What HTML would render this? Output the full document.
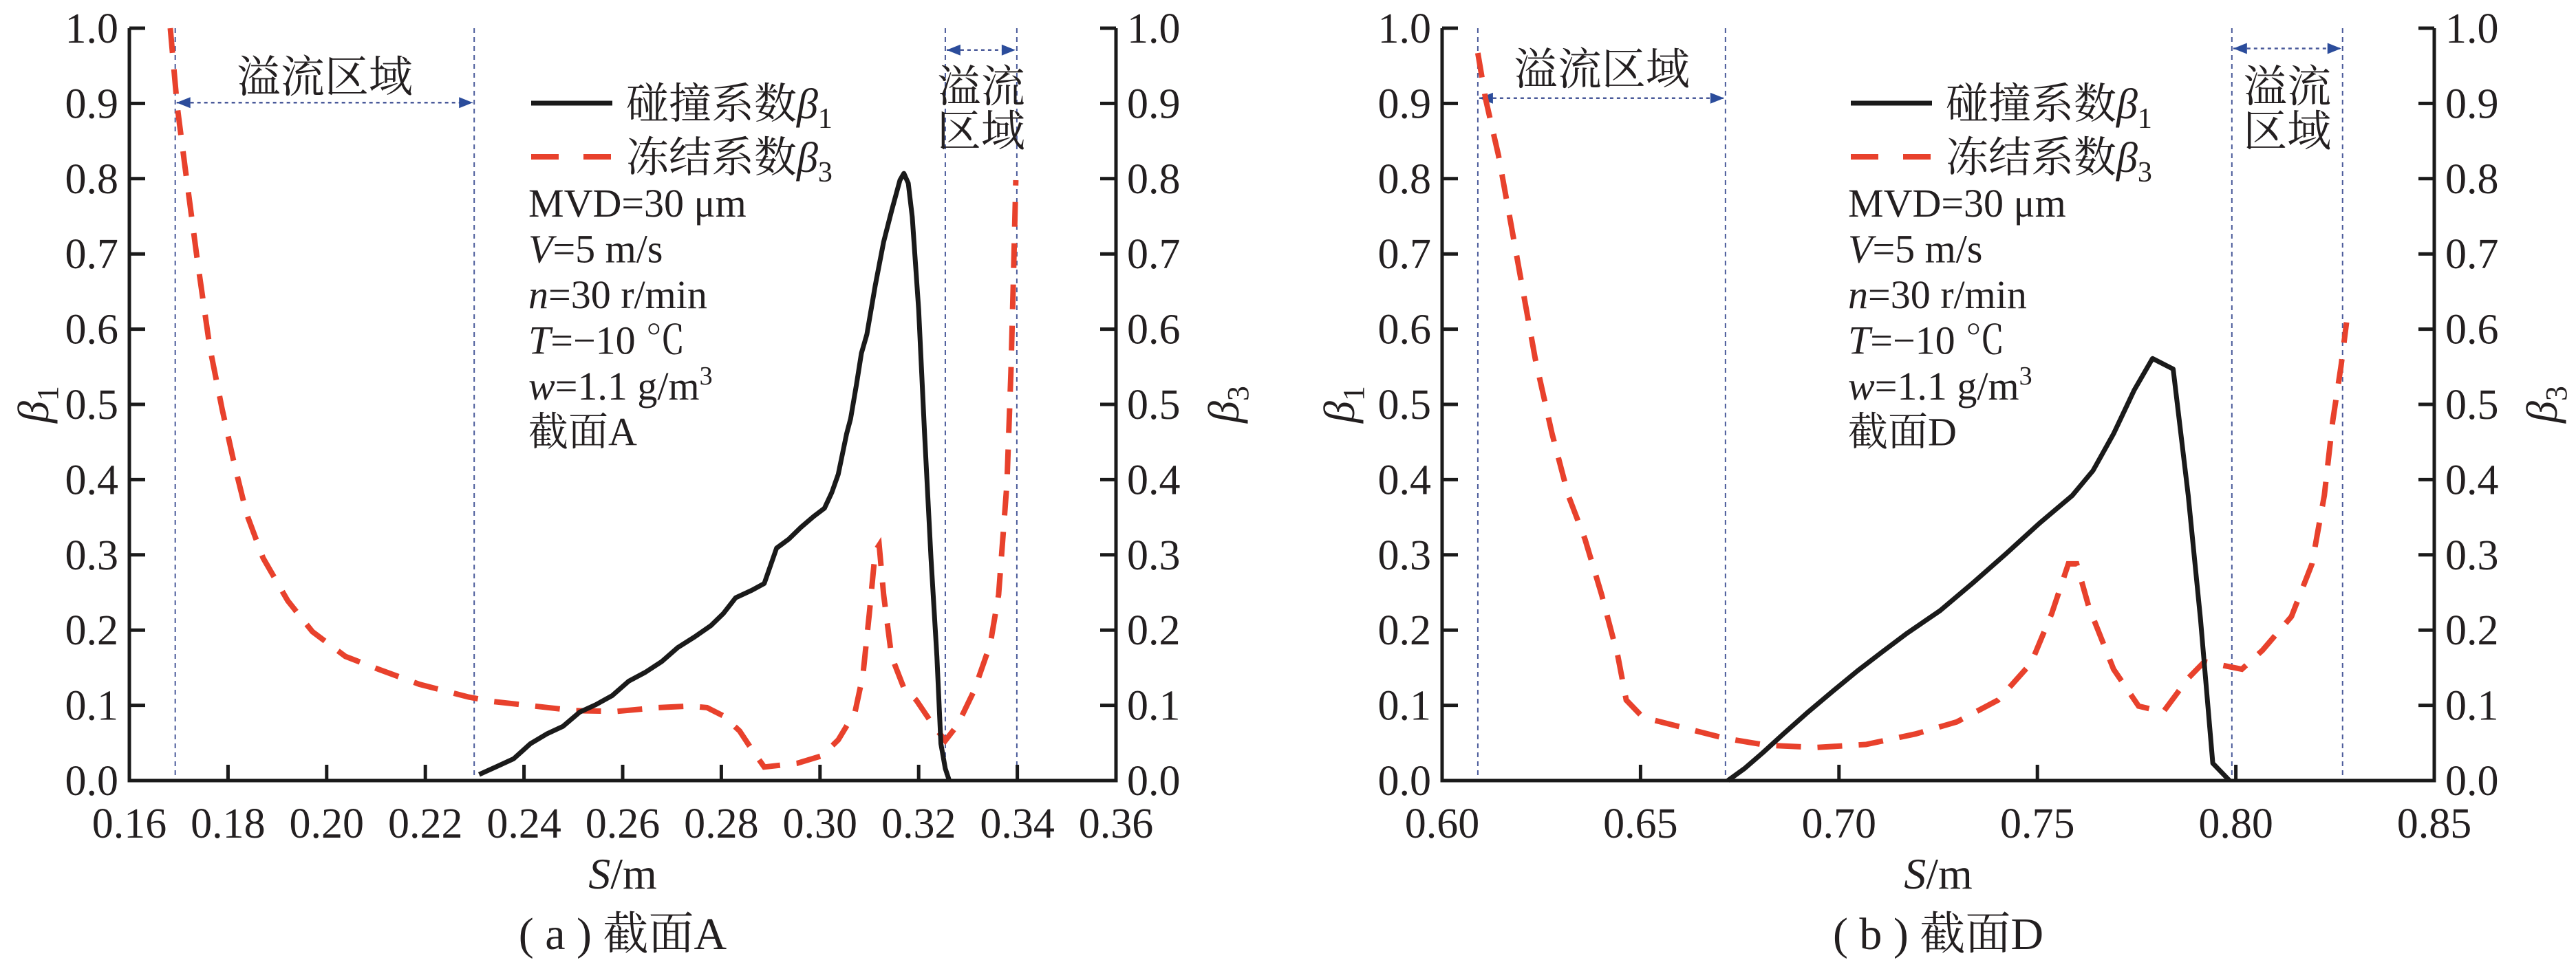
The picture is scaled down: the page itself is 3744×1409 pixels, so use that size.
<!DOCTYPE html>
<html><head><meta charset="utf-8">
<style>
html,body{margin:0;padding:0;background:#fff;}
svg{display:block;}
text{font-family:"Liberation Serif","Noto Serif CJK SC","Noto Sans CJK SC",serif;fill:#231f20;}
</style></head>
<body>
<svg id="chart" width="3744" height="1409" viewBox="0 0 3744 1409" xmlns="http://www.w3.org/2000/svg"></svg>
<script>
// ---- Panel A data ----
const aS1 = [0.2309,0.2346,0.2379,0.2413,0.2446,0.2479,0.2513,0.2546,0.2579,0.2612,0.2646,0.2679,0.2712,0.2746,0.2779,0.2804,0.2829,0.2862,0.2887,0.2912,0.2937,0.2962,0.2987,0.3009,0.3024,0.3037,0.3054,0.3062,0.3074,0.3084,0.3095,0.3112,0.3129,0.3145,0.3162,0.3170,0.3179,0.3187,0.3200,0.3212,0.3225,0.3237,0.3245,0.3254,0.3262];
const aBeta1 = [0.008,0.019,0.029,0.049,0.062,0.072,0.091,0.101,0.113,0.132,0.144,0.158,0.177,0.191,0.206,0.222,0.243,0.253,0.262,0.309,0.321,0.337,0.351,0.362,0.383,0.407,0.461,0.481,0.527,0.568,0.593,0.658,0.716,0.757,0.798,0.807,0.794,0.749,0.626,0.461,0.296,0.165,0.049,0.016,0.0];
const aS3 = [0.1683,0.1697,0.1713,0.1738,0.1763,0.1788,0.1813,0.1838,0.1871,0.1921,0.1971,0.2038,0.2105,0.2188,0.2288,0.2338,0.2421,0.2504,0.2588,0.2671,0.2737,0.2771,0.2804,0.2837,0.2862,0.2887,0.2954,0.3004,0.3037,0.3071,0.3087,0.3100,0.3112,0.3120,0.3129,0.3145,0.3170,0.3195,0.3229,0.3254,0.3279,0.3312,0.3345,0.3362,0.3379,0.3387,0.3392,0.3397];
const aBeta3 = [1.0,0.897,0.815,0.691,0.576,0.494,0.420,0.354,0.296,0.239,0.198,0.165,0.148,0.128,0.111,0.105,0.099,0.093,0.092,0.097,0.099,0.097,0.086,0.066,0.041,0.018,0.023,0.033,0.054,0.091,0.140,0.222,0.305,0.313,0.247,0.165,0.123,0.107,0.074,0.053,0.074,0.119,0.181,0.247,0.395,0.543,0.667,0.798];
const aXTicks = ["0.16","0.18","0.20","0.22","0.24","0.26","0.28","0.30","0.32","0.34","0.36"];
const aOverflow = [0.1693,0.2299,0.3254,0.3399];
// ---- Panel D data ----
const dS1 = [0.6720,0.6762,0.6808,0.6860,0.6922,0.6985,0.7047,0.7109,0.7172,0.7255,0.7338,0.7422,0.7505,0.7588,0.7640,0.7692,0.7744,0.7790,0.7842,0.7880,0.7911,0.7942,0.7984];
const dBeta1 = [0,0.016,0.037,0.062,0.091,0.119,0.146,0.171,0.196,0.226,0.263,0.302,0.342,0.379,0.412,0.461,0.519,0.561,0.547,0.379,0.214,0.023,0];
const dS3 = [0.6090,0.6110,0.6142,0.6173,0.6204,0.6235,0.6277,0.6318,0.6360,0.6402,0.6443,0.6464,0.6506,0.6610,0.6714,0.6818,0.6943,0.7068,0.7193,0.7297,0.7401,0.7484,0.7536,0.7578,0.7599,0.7630,0.7692,0.7755,0.7817,0.7880,0.7921,0.8015,0.8067,0.8140,0.8192,0.8223,0.8244,0.8265,0.8279];
const dBeta3 = [0.967,0.905,0.831,0.741,0.650,0.560,0.461,0.379,0.321,0.247,0.165,0.107,0.084,0.070,0.056,0.047,0.044,0.048,0.062,0.078,0.107,0.156,0.222,0.288,0.288,0.230,0.148,0.099,0.091,0.136,0.158,0.148,0.173,0.218,0.288,0.379,0.477,0.551,0.609];
const dXTicks = ["0.60","0.65","0.70","0.75","0.80","0.85"];
const dOverflow = [0.6090,0.6714,0.7990,0.8269];
const yTicks = ["0.0","0.1","0.2","0.3","0.4","0.5","0.6","0.7","0.8","0.9","1.0"];

const NS="http://www.w3.org/2000/svg";
const svg=document.getElementById('chart');
function el(tag,attrs,parent){const e=document.createElementNS(NS,tag);for(const k in attrs)e.setAttribute(k,attrs[k]);(parent||svg).appendChild(e);return e;}

const defs=el('defs',{});
const mk=el('marker',{id:'arr',viewBox:'0 0 10 10',refX:'10',refY:'5',markerWidth:'7',markerHeight:'7',orient:'auto-start-reverse',markerUnits:'userSpaceOnUse'},defs);
mk.setAttribute('markerWidth','26');mk.setAttribute('markerHeight','20');
el('path',{d:'M0,1 L10,5 L0,9 Z',fill:'#2b4c9b'},mk);

const Y0=1135, Y1=41;
function ys(v){return Y0-(v)*(Y0-Y1);}

function panel(cfg){
  const g=el('g',{});
  
  
  const xs=v=>cfg.x0+(v-cfg.min)/(cfg.max-cfg.min)*(cfg.x1-cfg.x0);
  // overflow lines
  cfg.over.forEach((s,i)=>{
    const l=el('line',{x1:xs(s),y1:Y1,x2:xs(s),y2:Y0,stroke:'#4a5a9a','stroke-width':2,'stroke-dasharray':'7,6'},g);
    
    
  });
  const a1=el('line',{x1:xs(cfg.over[0])+2,y1:ys(cfg.arrY1),x2:xs(cfg.over[1])-2,y2:ys(cfg.arrY1),stroke:'#4a5a9a','stroke-width':2.5,'stroke-dasharray':'5,5','marker-start':'url(#arr)','marker-end':'url(#arr)'},g);
  
  const a2=el('line',{x1:xs(cfg.over[2])+2,y1:ys(cfg.arrY2),x2:xs(cfg.over[3])-2,y2:ys(cfg.arrY2),stroke:'#4a5a9a','stroke-width':2.5,'stroke-dasharray':'5,5','marker-start':'url(#arr)','marker-end':'url(#arr)'},g);
  
  const t1=el('text',{x:(xs(cfg.over[0])+xs(cfg.over[1]))/2,y:ys(cfg.labY),'font-size':64,'text-anchor':'middle'},g);
  t1.textContent='溢流区域';
  
  const cx2=(xs(cfg.over[2])+xs(cfg.over[3]))/2;
  const t2=el('text',{x:cx2,y:148,'font-size':64,'text-anchor':'middle'},g);t2.textContent='溢流';
  
  const t3=el('text',{x:cx2,y:213,'font-size':64,'text-anchor':'middle'},g);t3.textContent='区域';
  
  // series
  const p3=cfg.s3.map((s,i)=>xs(s).toFixed(1)+','+ys(cfg.b3[i]).toFixed(1)).join(' ');
  const l3=el('polyline',{points:p3,fill:'none',stroke:'#e8412c','stroke-width':8,'stroke-dasharray':'36,24'},g);
  
  const p1=cfg.s1.map((s,i)=>xs(s).toFixed(1)+','+ys(cfg.b1[i]).toFixed(1)).join(' ');
  const l1=el('polyline',{points:p1,fill:'none',stroke:'#1a1a1a','stroke-width':7,'stroke-linejoin':'round'},g);
  
  // axes
  const ax=el('path',{d:`M${cfg.x0},${Y1} V${Y0} H${cfg.x1} V${Y1}`,fill:'none',stroke:'#1a1a1a','stroke-width':5},g);
  
  yTicks.forEach((lab,i)=>{
    const v=parseFloat(lab),y=ys(v);
    el('line',{x1:cfg.x0,y1:y,x2:cfg.x0+23,y2:y,stroke:'#1a1a1a','stroke-width':5},g);
    el('line',{x1:cfg.x1,y1:y,x2:cfg.x1-23,y2:y,stroke:'#1a1a1a','stroke-width':5},g);
    const tl=el('text',{x:cfg.x0-16,y:y+21,'font-size':62,'text-anchor':'end'},g);tl.textContent=lab;
    
    const tr=el('text',{x:cfg.x1+16,y:y+21,'font-size':62,'text-anchor':'start'},g);tr.textContent=lab;
    
  });
  cfg.xt.forEach((lab,i)=>{
    const x=xs(parseFloat(lab));
    if(i>0&&i<cfg.xt.length-1) el('line',{x1:x,y1:Y0,x2:x,y2:Y0-23,stroke:'#1a1a1a','stroke-width':5},g);
    const t=el('text',{x:x,y:1218,'font-size':62,'text-anchor':'middle'},g);t.textContent=lab;
    
  });
  // axis titles
  const yl=el('text',{x:0,y:0,'font-size':64,'text-anchor':'middle','font-style':'italic',transform:`translate(${cfg.ylx},588) rotate(-90)`},g);
  yl.innerHTML='β<tspan font-style="normal" font-size="44" dy="14">1</tspan>';
  
  const yr=el('text',{x:0,y:0,'font-size':64,'text-anchor':'middle','font-style':'italic',transform:`translate(${cfg.yrx},588) rotate(-90)`},g);
  yr.innerHTML='β<tspan font-style="normal" font-size="44" dy="14">3</tspan>';
  
  const xl=el('text',{x:(cfg.x0+cfg.x1)/2,y:1292,'font-size':64,'text-anchor':'middle'},g);
  xl.innerHTML='<tspan font-style="italic">S</tspan>/m';
  
  const cap=el('text',{x:(cfg.x0+cfg.x1)/2,y:1380,'font-size':66,'text-anchor':'middle'},g);
  cap.textContent=cfg.caption;
  
  // legend
  const lx=cfg.legX;
  const lg=el('g',{},g);
  el('line',{x1:lx,y1:150,x2:lx+118,y2:150,stroke:'#1a1a1a','stroke-width':7},lg);
  const lt1=el('text',{x:lx+138,y:172,'font-size':62},lg);
  lt1.innerHTML='碰撞系数<tspan font-style="italic">β</tspan><tspan font-size="42" dy="14">1</tspan>';
  
  el('line',{x1:lx,y1:228,x2:lx+118,y2:228,stroke:'#e8412c','stroke-width':8,'stroke-dasharray':'40,36'},lg);
  const lt2=el('text',{x:lx+138,y:250,'font-size':62},lg);
  lt2.innerHTML='冻结系数<tspan font-style="italic">β</tspan><tspan font-size="42" dy="14">3</tspan>';
  
  // params
  const lines=['MVD=30 μm','<tspan font-style="italic">V</tspan>=5 m/s','<tspan font-style="italic">n</tspan>=30 r/min','<tspan font-style="italic">T</tspan>=−10 ℃','<tspan font-style="italic">w</tspan>=1.1 g/m<tspan font-size="38" dy="-22">3</tspan>',cfg.sec];
  lines.forEach((h,i)=>{
    const t=el('text',{x:lx-4,y:315+i*66.5,'font-size':58},g);t.innerHTML=h;
    
  });
}
panel({name:'panel-a',x0:188,x1:1622,min:0.16,max:0.36,s1:aS1,b1:aBeta1,s3:aS3,b3:aBeta3,xt:aXTicks,over:aOverflow,arrY1:0.901,arrY2:0.971,labY:0.915,ylx:70,yrx:1800,caption:'( a ) 截面A',legX:772,sec:'截面A'});
panel({name:'panel-d',x0:2096,x1:3538,min:0.60,max:0.85,s1:dS1,b1:dBeta1,s3:dS3,b3:dBeta3,xt:dXTicks,over:dOverflow,arrY1:0.907,arrY2:0.973,labY:0.925,ylx:1968,yrx:3716,caption:'( b ) 截面D',legX:2690,sec:'截面D'});
</script>
</body></html>
